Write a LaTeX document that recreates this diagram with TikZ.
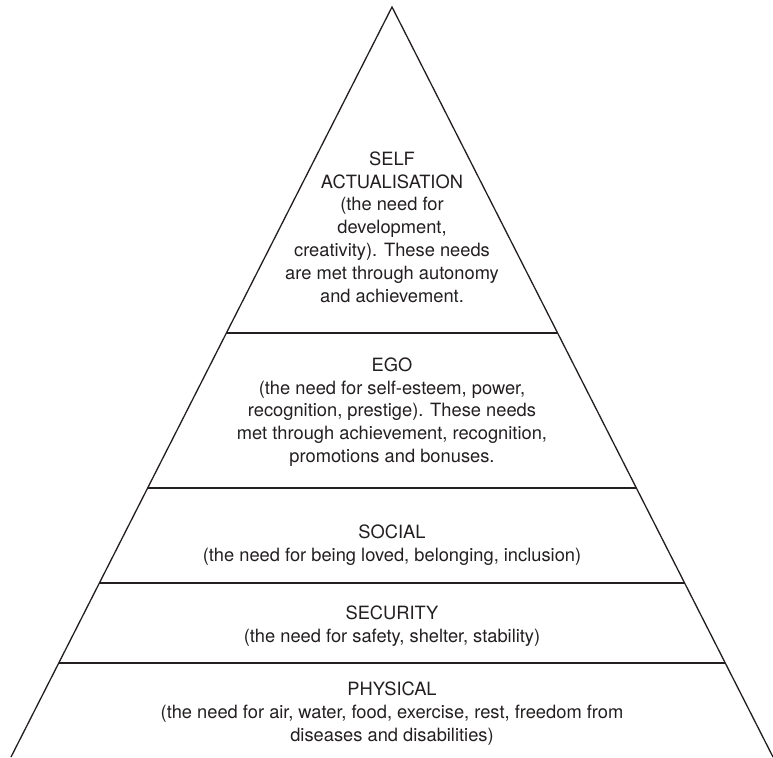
\documentclass[tikz,border=0pt]{standalone}
\usepackage{fontspec}
\setmainfont{TeX Gyre Heros}
\usetikzlibrary{calc}
\definecolor{ink}{RGB}{35,31,32}
\begin{document}
\begin{tikzpicture}[x=1pt,y=-1pt,
  edge/.style={draw=ink,line width=1.3pt},
  tier/.style={align=center,text=ink,font=\fontsize{18.3}{22.8}\selectfont,inner sep=0pt}]
\useasboundingbox (0,0) rectangle (773,757);
\coordinate (apex) at (392,7);
\coordinate (bl) at (11,757);
\coordinate (br) at (773,757);
\foreach \n/\y in {a/333,b/488,c/583,d/663}{
  \coordinate (L\n) at ($(apex)!{(\y-7)/750}!(bl)$);
  \coordinate (R\n) at ($(apex)!{(\y-7)/750}!(br)$);
}
\draw[edge] (bl) -- (apex) -- (br);
\draw[edge] (La) -- (Ra);
\draw[edge] (Lb) -- (Rb);
\draw[edge] (Lc) -- (Rc);
\draw[edge] (Ld) -- (Rd);
\node[tier] (self) at (392,227) {SELF\\ACTUALISATION\\(the need for\\development,\\creativity). These needs\\are met through autonomy\\and achievement.};
\node[tier] (ego) at (392,412) {EGO\\(the need for self-esteem, power,\\recognition, prestige). These needs\\met through achievement, recognition,\\promotions and bonuses.};
\node[tier] (social) at (392,545.5) {SOCIAL\\(the need for being loved, belonging, inclusion)};
\node[tier] (security) at (392,626) {SECURITY\\(the need for safety, shelter, stability)};
\node[tier] (physical) at (392,713.5) {PHYSICAL\\(the need for air, water, food, exercise, rest, freedom from\\diseases and disabilities)};
\end{tikzpicture}
\end{document}
